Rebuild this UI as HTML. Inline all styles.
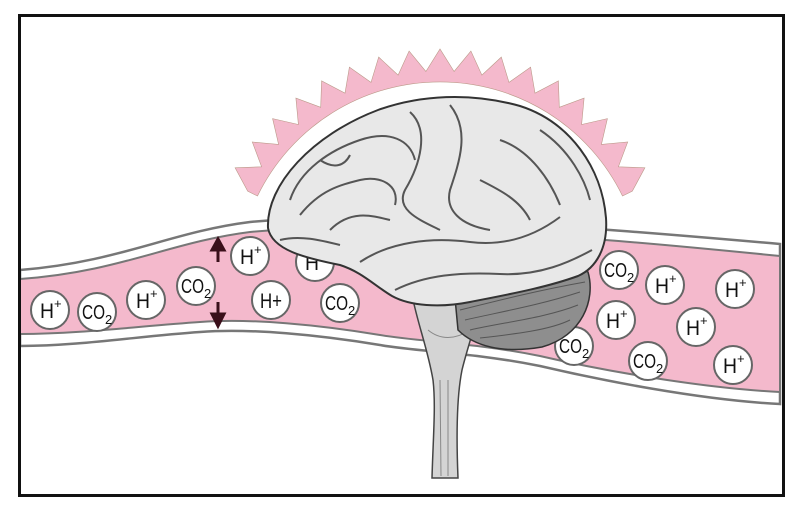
<!DOCTYPE html>
<html><head><meta charset="utf-8"><style>
html,body{margin:0;padding:0;background:#fff}
svg{display:block}
text{font-family:"Liberation Sans Narrow","Liberation Sans",sans-serif;fill:#111}
</style></head><body>
<svg id="s" width="800" height="514" viewBox="0 0 800 514" xmlns="http://www.w3.org/2000/svg">
<rect x="0" y="0" width="800" height="514" fill="#fff"/>
<path id="halo" fill="#f4b9cc" stroke="#b98" stroke-width="0.6"/>
<path d="M20,270 C120,262 170,232 250,222 C330,214 420,220 500,224 C560,226 620,230 780,244 L780,404 C700,400 600,380 540,366 C470,352 420,352 380,345 C320,335 250,328 200,332 C140,336 80,346 20,346 Z" fill="#fff" stroke="#777" stroke-width="2.5"/>
<path d="M20,279 C120,272 170,242 250,232 C330,224 420,230 500,234 C560,236 620,240 780,256 L780,392 C700,388 600,370 540,356 C470,342 420,342 380,335 C320,325 250,318 200,322 C140,326 80,334 20,334 Z" fill="#f4b9cc" stroke="#777" stroke-width="2"/>
<g stroke="#3a0f1a" stroke-width="3" fill="#3a0f1a">
<line x1="218" y1="262" x2="218" y2="248"/><polygon points="212,250 224,250 218,239"/>
<line x1="218" y1="302" x2="218" y2="316"/><polygon points="212,314 224,314 218,326"/>
</g>
<g id="mol"></g>
<!-- brainstem -->
<path d="M412,295 L480,295 C478,320 468,345 462,370 C457,395 456,430 458,478 L432,478 C433,440 436,405 433,380 C428,350 418,325 412,295 Z" fill="#d4d4d4" stroke="#444" stroke-width="1.5"/>
<g stroke="#888" fill="none" stroke-width="1"><path d="M440,380 L441,476"/><path d="M448,380 L448,476"/><path d="M428,330 C440,340 455,340 470,330"/></g>
<!-- cerebellum -->
<path d="M455,298 C500,280 560,258 588,272 C596,300 582,336 542,347 C502,354 474,346 458,330 Z" fill="#8e8e8e" stroke="#333" stroke-width="1.5"/>
<g stroke="#555" fill="none" stroke-width="1">
<path d="M465,320 C500,312 540,305 580,292"/><path d="M470,330 C505,322 545,318 578,305"/><path d="M480,338 C515,334 550,330 570,320"/><path d="M460,310 C500,300 540,290 585,282"/>
</g>
<!-- cerebrum -->
<path d="M268,228 C266,185 312,135 378,110 C420,95 470,92 520,106 C570,122 602,168 606,218 C608,248 596,268 578,276 C545,288 505,295 470,302 C440,308 410,306 392,296 C375,286 362,272 340,265 C305,258 272,250 268,228 Z" fill="#e8e8e8" stroke="#333" stroke-width="2"/>
<g stroke="#555" fill="none" stroke-width="2">
<path d="M290,200 C300,170 330,150 360,140 C390,130 410,140 415,160"/>
<path d="M300,215 C320,190 340,185 360,180 C380,175 400,185 395,205"/>
<path d="M410,112 C430,130 420,165 405,190 C395,210 420,220 440,230"/>
<path d="M450,105 C470,130 460,160 450,190 C445,210 460,225 490,230"/>
<path d="M360,262 C390,242 430,237 470,242 C510,247 540,232 560,217"/>
<path d="M395,290 C425,275 460,272 500,274 C540,276 570,262 592,250"/>
<path d="M500,140 C530,150 550,180 560,205"/>
<path d="M330,230 C350,210 370,215 390,220"/>
<path d="M480,180 C500,190 520,200 530,220"/>
<path d="M540,130 C570,150 585,180 590,200"/>
<path d="M280,240 C300,235 320,240 340,245"/>
<path d="M320,160 C335,170 345,165 350,155"/>
</g>
</svg>
<script>
(function(){
var cx=440,cy=285,ri=203,rb=214,rt=236;
var a0=-64*Math.PI/180,a1=64*Math.PI/180;var n=17;
var pts=[];
for(var i=0;i<=n*2;i++){var a=a0+(a1-a0)*i/(n*2);var r=(i%2==1)?rt:rb;
pts.push((cx+r*Math.sin(a)).toFixed(1)+","+(cy-r*Math.cos(a)).toFixed(1));}
var d="M"+(cx+ri*Math.sin(a0)).toFixed(1)+","+(cy-ri*Math.cos(a0)).toFixed(1)+" L"+pts.join(" L")+" L"+(cx+ri*Math.sin(a1)).toFixed(1)+","+(cy-ri*Math.cos(a1)).toFixed(1)+" A"+ri+","+ri+" 0 0 0 "+(cx+ri*Math.sin(a0)).toFixed(1)+","+(cy-ri*Math.cos(a0)).toFixed(1)+"Z";
document.getElementById("halo").setAttribute("d",d);
var m=[["H",50,310],["C",97,312],["H",146,300],["C",196,286],["H",250,256],["H",315,262],["h",271,300],["C",340,303],
["C",619,270],["H",665,285],["H",735,289],["H",616,320],["H",696,327],["C",574,346],["C",648,361],["H",733,365]];
var s="";
m.forEach(function(o){var x=o[1],y=o[2];
s+='<circle cx="'+x+'" cy="'+y+'" r="19" fill="#fff" stroke="#666" stroke-width="2"/>';
if(o[0]=="H")s+='<text x="'+(x-10)+'" y="'+(y+8)+'" font-size="21" textLength="14" lengthAdjust="spacingAndGlyphs">H</text><text x="'+(x+4)+'" y="'+(y-2)+'" font-size="13">+</text>';
else if(o[0]=="h")s+='<text x="'+(x-11)+'" y="'+(y+8)+'" font-size="21" textLength="22" lengthAdjust="spacingAndGlyphs">H+</text>';
else s+='<text x="'+(x-15)+'" y="'+(y+7)+'" font-size="20" textLength="23" lengthAdjust="spacingAndGlyphs">CO</text><text x="'+(x+8)+'" y="'+(y+12)+'" font-size="13">2</text>';
});
document.getElementById("mol").innerHTML=s;
})();
</script>
<div style="position:absolute;left:18px;top:14px;width:761px;height:477px;border:3px solid #111;pointer-events:none"></div>
</body></html>
